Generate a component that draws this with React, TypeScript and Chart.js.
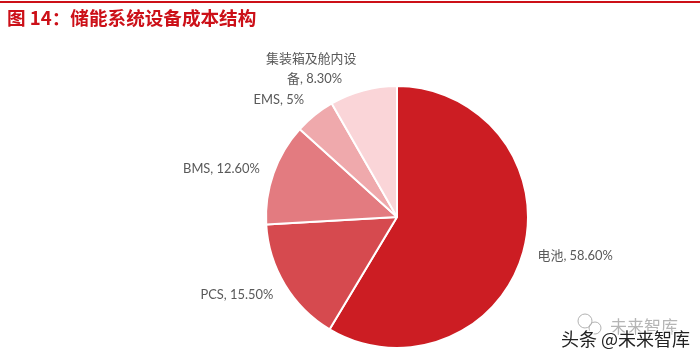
import React, { useEffect, useRef } from "react";
import { Chart, registerables } from "chart.js";

Chart.register(...registerables);

const categories = ["电池", "PCS", "BMS", "EMS", "集装箱及舱内设备"];
const shares = [58.6, 15.5, 12.6, 5, 8.3];
const sliceLabels = [["电池, 58.60%"], ["PCS, 15.50%"], ["BMS, 12.60%"], ["EMS, 5%"], ["集装箱及舱内设", "  备, 8.30%"]];
const colors = ["#CC1D23", "#D64A4F", "#E37B80", "#EFA9AC", "#FAD5D8"];
const labelOffsets = [[52, 4], [-48, 10], [-52, -5], [-36, -15], [-52, -22]];
const titleText = "图 14：储能系统设备成本结构";
const LABEL_FONT = '12.9px Lato, "Noto Sans CJK SC", sans-serif';

const decor = {
  id: "decor",
  afterDraw(chart: any) {
    const ctx = chart.ctx;
    const arcs = chart.getDatasetMeta(0).data;
    ctx.save();
    ctx.textAlign = "center";
    ctx.textBaseline = "middle";
    ctx.font = LABEL_FONT;
    ctx.fillStyle = "#595959";
    arcs.forEach((arc: any, i: number) => {
      const mid = (arc.startAngle + arc.endAngle) / 2;
      const x = arc.x + Math.cos(mid) * arc.outerRadius + labelOffsets[i][0];
      const y = arc.y + Math.sin(mid) * arc.outerRadius + labelOffsets[i][1];
      const lines = sliceLabels[i];
      lines.forEach((t, k) => ctx.fillText(t, x, y + (k - (lines.length - 1) / 2) * 20));
    });

    ctx.fillStyle = "#CC1018";
    ctx.fillRect(0, 1, 700, 2);
    ctx.textAlign = "left";
    ctx.font = 'bold 18.6px "Noto Sans CJK SC", sans-serif';
    ctx.fillText(titleText, 7, 18);

    ctx.font = '17px "Noto Sans CJK SC", sans-serif';
    ctx.strokeStyle = "rgba(170,170,170,0.9)";
    ctx.lineWidth = 1;
    ctx.fillStyle = "rgba(150,150,150,0.7)";
    ctx.fillText("未来智库", 610, 327);
    ctx.beginPath();
    ctx.arc(585, 321, 7, 0, Math.PI * 2);
    ctx.stroke();
    ctx.beginPath();
    ctx.arc(595, 328, 6, 0, Math.PI * 2);
    ctx.stroke();
    ctx.font = '18px "Noto Sans CJK SC", sans-serif';
    ctx.lineWidth = 2.5;
    ctx.strokeStyle = "#ffffff";
    const wm = "头条 @未来智库";
    ctx.strokeText(wm, 561, 339);
    ctx.fillStyle = "#222222";
    ctx.fillText(wm, 561, 339);
    ctx.restore();
  },
};

export default function App() {
  const ref = useRef<HTMLCanvasElement | null>(null);
  useEffect(() => {
    document.body.style.margin = "0";
    const chart = new Chart(ref.current!, {
      type: "pie",
      data: {
        labels: categories,
        datasets: [{ data: shares, backgroundColor: colors, borderColor: "#ffffff", borderWidth: 2 }],
      },
      options: {
        responsive: false,
        animation: false,
        layout: { padding: { top: 85, bottom: 10, left: 265, right: 171 } },
        plugins: { legend: { display: false }, title: { display: false }, tooltip: { enabled: false } },
      },
      plugins: [decor],
    } as any);
    return () => chart.destroy();
  }, []);
  return (
    <div style={{ width: 700, height: 359, background: "#fff" }}>
      <canvas ref={ref} width={700} height={359} style={{ display: "block" }} />
    </div>
  );
}
